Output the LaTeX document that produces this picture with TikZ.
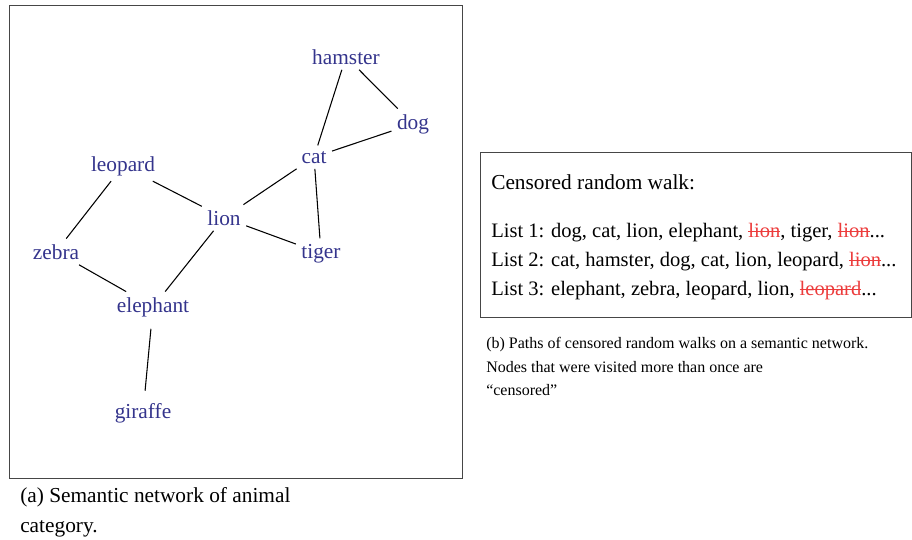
\documentclass[tikz,border=0pt]{standalone}
\usepackage{fontspec}
\setmainfont{Liberation Serif}
\usepackage{tikz}
\usetikzlibrary{positioning}
\usepackage{xcolor}

\definecolor{animalblue}{RGB}{52,52,140}
\definecolor{censred}{RGB}{236,60,60}
\definecolor{boxgray}{RGB}{70,70,70}
\newlength{\censwd}
\newcommand{\censored}[1]{\settowidth{\censwd}{#1}%
  \textcolor{censred}{\rlap{\rule[0.55ex]{\censwd}{0.7pt}}#1}}

\tikzset{
  animal/.style={text=animalblue, inner sep=4pt, anchor=base, font=\fontsize{16}{18}\selectfont},
  link/.style={line width=0.8pt, black},
  panel/.style={draw=boxgray, line width=1pt, anchor=north west},
  caption/.style={anchor=north west, align=left, inner sep=0pt}
}

\begin{document}
\begin{tikzpicture}[x=0.75pt,y=-0.75pt]
  \useasboundingbox (0,0) rectangle (912,539);

  % network panel
  \node[panel, minimum width=339.75pt, minimum height=354.75pt] (netbox) at (9,5) {};

  \node[animal] (hamster)  at (346,64)  {hamster};
  \node[animal] (dog)      at (413,129) {dog};
  \node[animal] (cat)      at (314,163) {cat};
  \node[animal] (leopard)  at (123,171) {leopard};
  \node[animal] (lion)     at (224,225) {lion};
  \node[animal] (zebra)    at (56,259)  {zebra};
  \node[animal] (tiger)    at (321,258) {tiger};
  \node[animal] (elephant) at (153,312) {elephant};
  \node[animal] (giraffe)  at (143,418) {giraffe};

  \draw[link] (hamster) -- (cat);
  \draw[link] (hamster) -- (dog);
  \draw[link] (dog) -- (cat);
  \draw[link] (cat) -- (lion);
  \draw[link] (cat) -- (tiger);
  \draw[link] (leopard) -- (lion);
  \draw[link] (leopard) -- (zebra);
  \draw[link] (lion) -- (tiger);
  \draw[link] (lion) -- (elephant);
  \draw[link] (zebra) -- (elephant);
  \draw[link, shorten >=5pt, shorten <=5pt] (elephant) -- (giraffe);

  \node[caption, font=\fontsize{16}{22.5}\selectfont] (capa) at (20,487)
    {(a) Semantic network of animal\\category.};

  % walk panel
  \node[panel, minimum width=323.25pt, minimum height=123.75pt] (walkbox) at (480,151.5) {};

  \node[caption, font=\fontsize{16}{18}\selectfont] (walktitle) at (491,174)
    {Censored random walk:};
  \node[caption, font=\fontsize{15.4}{21.75}\selectfont] (lists) at (491,223)
    {List 1: dog, cat, lion, elephant, \censored{lion}, tiger, \censored{lion}...\\
     List 2: cat, hamster, dog, cat, lion, leopard, \censored{lion}...\\
     List 3: elephant, zebra, leopard, lion, \censored{leopard}...};

  \node[caption, font=\fontsize{12}{17.6}\selectfont] (capb) at (486,337)
    {(b) Paths of censored random walks on a semantic network.\\
     Nodes that were visited more than once are\\
     ``censored''};
\end{tikzpicture}
\end{document}
